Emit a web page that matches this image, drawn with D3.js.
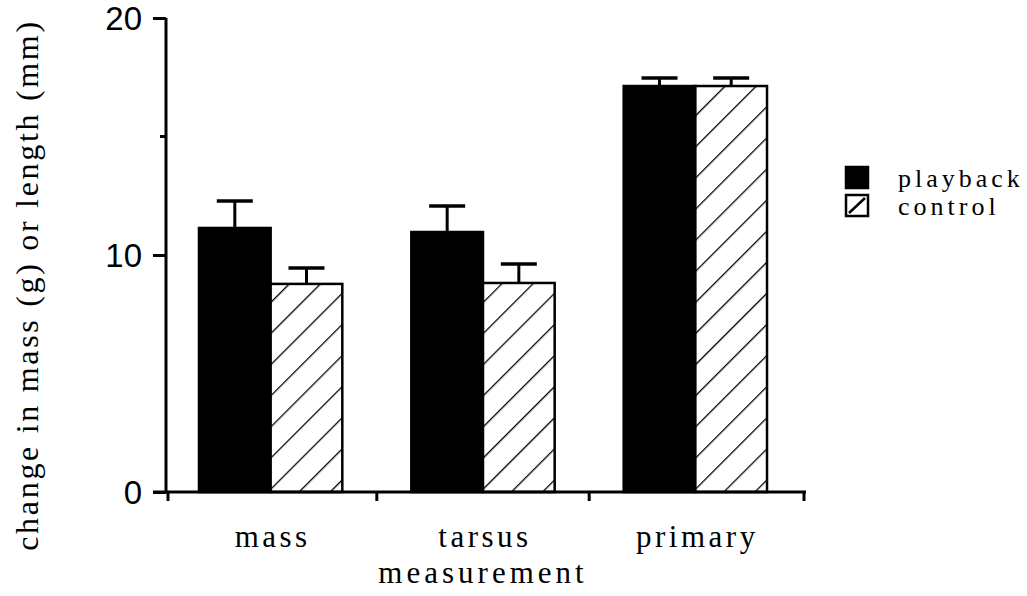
<!DOCTYPE html>
<html><head><meta charset="utf-8">
<script src="https://cdn.jsdelivr.net/npm/d3@7"></script>
<style>body{margin:0;background:#fff}svg{display:block}</style>
</head><body>
<svg id="c" width="1027" height="596"></svg>
<script>
const categories = ["mass", "tarsus", "primary"];
const seriesNames = ["playback", "control"];
const playback = [11.14, 10.97, 17.13];
const playbackErr = [12.28, 12.07, 17.47];
const control = [8.78, 8.82, 17.13];
const controlErr = [9.45, 9.62, 17.47];
const yTicks = [0, 10, 20];
const yMinorTicks = [15];

const svg = d3.select("#c");
const serif = "'Liberation Serif', 'DejaVu Serif', 'Times New Roman', serif";
const defs = svg.append("defs");
const pat = defs.append("pattern").attr("id","hatch").attr("patternUnits","userSpaceOnUse")
  .attr("width",22).attr("height",22).attr("patternTransform","rotate(45)");
pat.append("rect").attr("width",22).attr("height",22).attr("fill","#fff");
pat.append("line").attr("x1",0).attr("y1",0).attr("x2",0).attr("y2",22).attr("stroke","#000").attr("stroke-width",2.6);

const y = d3.scaleLinear().domain([0,20]).range([492,18]);
const x = d3.scaleBand().domain(categories).range([165,801]).paddingInner(0.325).paddingOuter(0.16);
const xs = d3.scaleBand().domain(seriesNames).range([0,x.bandwidth()]);

const data = categories.map((c,i)=>({c, vals:[
  {s:"playback", v:playback[i], e:playbackErr[i]},
  {s:"control", v:control[i], e:controlErr[i]}]}));

const g = svg.append("g");
const grp = g.selectAll("g.grp").data(data).join("g").attr("transform",d=>`translate(${x(d.c)},0)`);
grp.selectAll("g.err").data(d=>d.vals).join("g").each(function(d){
  const cx = xs(d.s)+xs.bandwidth()/2;
  const s = d3.select(this);
  s.append("line").attr("x1",cx).attr("x2",cx).attr("y1",y(d.v)).attr("y2",y(d.e)).attr("stroke","#000").attr("stroke-width",3);
  s.append("line").attr("x1",cx-18).attr("x2",cx+18).attr("y1",y(d.e)).attr("y2",y(d.e)).attr("stroke","#000").attr("stroke-width",3.5);
});
grp.selectAll("rect").data(d=>d.vals).join("rect")
  .attr("x",d=>xs(d.s)).attr("width",xs.bandwidth())
  .attr("y",d=>y(d.v)).attr("height",d=>y(0)-y(d.v))
  .attr("fill",d=>d.s==="playback"?"#000":"url(#hatch)")
  .attr("stroke","#000").attr("stroke-width",2.5);

// y axis
const yAxis = svg.append("g").attr("transform","translate(166,0)")
  .call(d3.axisLeft(y).tickValues(yTicks).tickSize(13).tickPadding(11).tickFormat(d3.format("d")));
yAxis.select(".domain").attr("d",`M0,${y(20)}V${y(0)}`).attr("stroke-width",3);
yAxis.selectAll(".tick line").attr("stroke-width",3);
yAxis.selectAll("text").attr("font-family","'Liberation Sans Narrow', 'Liberation Sans', sans-serif")
  .attr("font-size",33).attr("fill","#000").attr("dy","0.36em");
svg.append("g").attr("transform","translate(166,0)").selectAll("line").data(yMinorTicks).join("line")
  .attr("x1",-6).attr("x2",0).attr("y1",d=>y(d)).attr("y2",d=>y(d)).attr("stroke","#000").attr("stroke-width",3);

// x axis
const xAxisG = svg.append("g").attr("transform",`translate(0,${y(0)})`);
xAxisG.append("line").attr("x1",153).attr("x2",806).attr("y1",0).attr("y2",0).attr("stroke","#000").attr("stroke-width",3);
const bounds = [168].concat(categories.slice(0,2).map(c=>x(c)+x.bandwidth()+x.step()*x.paddingInner()/2)).concat([804]);
xAxisG.selectAll("line.t").data(bounds).join("line").attr("class","t")
  .attr("x1",d=>d).attr("x2",d=>d).attr("y1",0).attr("y2",9).attr("stroke","#000").attr("stroke-width",3);
xAxisG.selectAll("text").data(categories).join("text")
  .attr("x",d=>x(d)+x.bandwidth()/2+2).attr("y",55).attr("text-anchor","middle")
  .attr("font-family",serif).attr("font-size",31).attr("letter-spacing",3.5).text(d=>d);

svg.append("text").attr("x",483).attr("y",583).attr("text-anchor","middle")
  .attr("font-family",serif).attr("font-size",31).attr("letter-spacing",4).text("measurement");
svg.append("text").attr("transform","translate(38,285) rotate(-90)").attr("text-anchor","middle")
  .attr("font-family",serif).attr("font-size",32).attr("letter-spacing",2.7).text("change in mass (g) or length (mm)");

// legend
const leg = svg.append("g").attr("transform","translate(846,167)");
const li = leg.selectAll("g").data(seriesNames).join("g").attr("transform",(d,i)=>`translate(0,${i*28})`);
li.append("rect").attr("width",22).attr("height",21)
  .attr("fill",d=>d==="playback"?"#000":"#fff").attr("stroke","#000").attr("stroke-width",2.5);
li.filter(d=>d==="control").append("line").attr("x1",3).attr("y1",18).attr("x2",19).attr("y2",3).attr("stroke","#000").attr("stroke-width",2.5);
li.append("text").attr("x",52).attr("y",20).attr("font-family",serif).attr("font-size",26).attr("letter-spacing",4).text(d=>d);
</script>
</body></html>
